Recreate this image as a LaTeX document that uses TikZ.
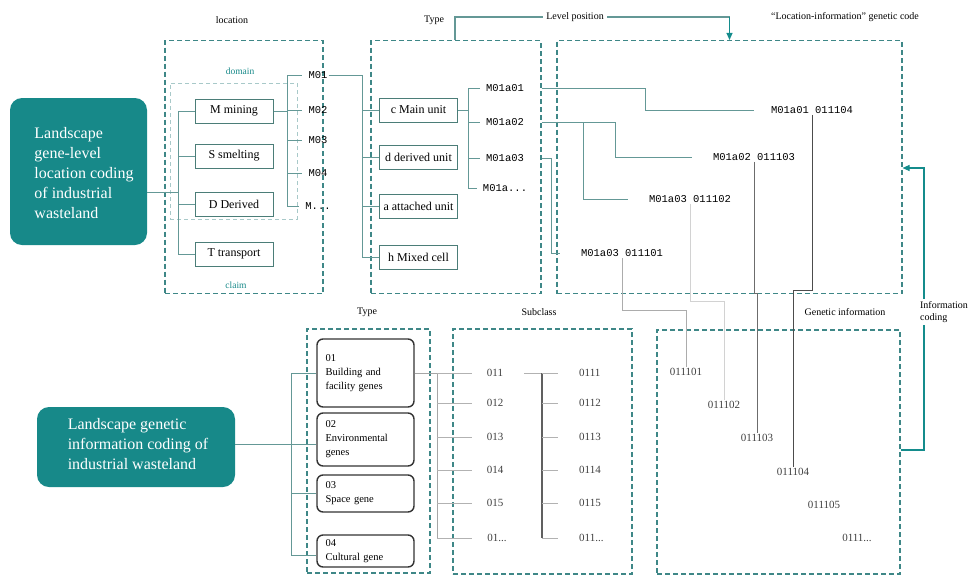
\documentclass[tikz,border=0pt]{standalone}
\usepackage{fontspec}
\setmainfont{Liberation Serif}
\newfontfamily\monof{Liberation Mono}
\usetikzlibrary{arrows.meta}
\definecolor{tealfill}{RGB}{23,137,137}
\definecolor{dashc}{RGB}{62,135,135}
\definecolor{connc}{RGB}{100,152,150}
\definecolor{unitc}{RGB}{75,125,120}
\definecolor{arrc}{RGB}{20,140,140}
\begin{document}
\begin{tikzpicture}[x=1pt,y=-1pt,
  tealbox/.style={fill=tealfill, rounded corners=12pt, inner sep=0pt},
  tealtext/.style={text=white, align=left, font=\fontsize{16}{20}\selectfont, inner sep=0pt},
  dbox/.style={draw=dashc, dash pattern=on 5pt off 3pt, line width=1.1pt, inner sep=0pt},
  dboxlight/.style={draw=dashc!45, dash pattern=on 4pt off 3pt, line width=0.8pt, inner sep=0pt},
  unit/.style={draw=unitc, line width=1pt, minimum width=78pt, minimum height=24pt, inner sep=1pt, font=\fontsize{12}{13}\selectfont},
  gene/.style={draw=black!80, line width=1.4pt, rounded corners=6pt, text width=80pt, inner xsep=8.5pt, inner ysep=2pt, align=left, font=\fontsize{10.5}{14}\selectfont},
  hdr/.style={font=\fontsize{10}{12}\selectfont, inner sep=1pt},
  hdrteal/.style={font=\fontsize{9.5}{11}\selectfont, text=tealfill, inner sep=1pt},
  mcode/.style={font=\monof\fontsize{10.5}{12}\selectfont, inner sep=1pt},
  scode/.style={font=\fontsize{11}{13}\selectfont, inner sep=1pt, text=black!75},
  conn/.style={draw=connc, line width=0.9pt},
  tealarrow/.style={draw=arrc, line width=1.1pt, -{Triangle[length=7pt,width=6pt]}},
  gconn/.style={draw=connc, line width=0.9pt}
]
\useasboundingbox (0,0) rectangle (974,576);

%% ---------- top left teal box ----------
\node[tealbox, minimum width=137pt, minimum height=147pt] (teal1) at (78.5,171.5) {};
\node[tealtext] (teal1t) at (84,173) {Landscape\\gene-level\\location coding\\of industrial\\wasteland};

%% ---------- location box ----------
\node[hdr] (hloc) at (232,20) {location};
\node[dbox, minimum width=158pt, minimum height=253pt] (locbox) at (244,167) {};
\node[dboxlight, minimum width=127pt, minimum height=136pt] (dombox) at (233.5,151) {};
\node[hdrteal] (hdom) at (240,71) {domain};
\node[hdrteal] (hclaim) at (236,285) {claim};

\node[unit] (mm) at (234,111) {M mining};
\node[unit] (ss) at (234,156) {S smelting};
\node[unit] (dd) at (234,204) {D Derived};
\node[unit] (tt) at (234,254) {T transport};

\coordinate (lbj) at (178,192);
\draw[conn] (teal1.east |- lbj) -- (lbj);
\draw[conn] (mm.west -| lbj) -- (tt.west -| lbj);
\foreach \n in {mm,ss,dd,tt} \draw[conn] (\n.west -| lbj) -- (\n.west);

\node[mcode] (m1) at (318,75) {M01};
\node[mcode] (m2) at (318,110) {M02};
\node[mcode] (m3) at (318,140) {M03};
\node[mcode] (m4) at (318,173) {M04};
\node[mcode] (m5) at (318,206) {M...};
\coordinate (mbx) at (287,111);
\draw[conn] (mm.east) -- (mm.east -| mbx);
\draw[conn] (m1.west -| mbx) -- (m5.west -| mbx);
\foreach \n in {m1,m2,m3,m4,m5} \draw[conn, shorten >=5pt] (\n.west -| mbx) -- (\n.west);

%% ---------- type box (top) ----------
\node[hdr] (htype) at (434,20) {Type};
\node[dbox, minimum width=170pt, minimum height=253pt] (typebox) at (456,167) {};
\node[unit] (cm) at (418.5,110) {c Main unit};
\node[unit] (dm) at (418.5,157) {d derived unit};
\node[unit] (am) at (418.5,206) {a attached unit};
\node[unit] (hm) at (418.5,257) {h Mixed cell};

\coordinate (tbx) at (362,75);
\draw[conn] (m1.east) -- (m1.east -| tbx) -- (hm.west -| tbx);
\foreach \n in {cm,dm,am,hm} \draw[conn] (\n.west -| tbx) -- (\n.west);

\node[mcode] (a1) at (505,88) {M01a01};
\node[mcode] (a2) at (505,122) {M01a02};
\node[mcode] (a3) at (505,158) {M01a03};
\node[mcode] (a4) at (505,188) {M01a...};
\coordinate (abx) at (468,110);
\draw[conn] (cm.east) -- (cm.east -| abx);
\draw[conn] (a1.west -| abx) -- (a4.west -| abx);
\foreach \n in {a1,a2,a3,a4} \draw[conn, shorten >=5pt] (\n.west -| abx) -- (\n.west);

%% ---------- level position ----------
\node[dbox, minimum width=345pt, minimum height=253pt] (codebox) at (729.5,167) {};
\coordinate (lp1) at (455,17);
\coordinate (lp2) at (729.5,17);
\draw[conn, line width=1.1pt] (typebox.north -| lp1) -- (lp1) -- (lp2);
\draw[tealarrow] (lp2) -- (codebox.north);
\node[hdr, fill=white, inner sep=3pt] (hlev) at (575,17) {Level position};
\node[hdr] (hcode) at (845,17) {``Location-information'' genetic code};

%% ---------- codes ----------
\node[mcode] (c1) at (812,110) {M01a01 011104};
\node[mcode] (c2) at (754,157) {M01a02 011103};
\node[mcode] (c3) at (690,199) {M01a03 011102};
\node[mcode] (c4) at (622,253) {M01a03 011101};

\coordinate (bx1) at (645,0);
\coordinate (bx2) at (615,0);
\coordinate (bx3) at (583,0);
\coordinate (bx4) at (551,0);
\draw[conn] (typebox.east |- a1) -- (a1 -| bx1) |- ([xshift=-16pt]c1.west);
\draw[conn] (typebox.east |- a2) -- (a2 -| bx2) |- ([xshift=-20pt]c2.west);
\draw[conn] (a2 -| bx3) |- ([xshift=-20pt]c3.west);
\draw[conn] (typebox.east |- a3) -- (a3 -| bx4) |- ([xshift=-20pt]c4.west);

%% ---------- genetic information box ----------
\node[hdr] (hgen) at (845,312) {Genetic information};
\node[dbox, minimum width=243pt, minimum height=244pt] (gbox) at (778.5,452) {};
\node[scode] (gA) at (686,372) {011101};
\node[scode] (gB) at (724,405) {011102};
\node[scode] (gC) at (757,438) {011103};
\node[scode] (gD) at (793,472) {011104};
\node[scode] (gE) at (824,505) {011105};
\node[scode] (gF) at (857,538) {0111...};

\draw[draw=gray!65, line width=1pt] (c4.south) -- (c4.south |- 0,310) -| (gA.north);
\draw[draw=gray!35, line width=1pt] (c3.south) -- (c3.south |- 0,301) -| (gB.north);
\draw[draw=gray!85!black, line width=1pt] (c2.south) -- (c2.south |- 0,293) -| (gC.north);
\draw[draw=black!70, line width=1pt] (c1.south) -- (c1.south |- 0,290) -| (gD.north);

%% ---------- information coding ----------
\coordinate (icx) at (924,450);
\coordinate (icy) at (0,168);
\draw[tealarrow] (gbox.east |- icx) -- (icx) |- (codebox.east |- icy);
\node[hdr, fill=white, align=left, inner sep=2pt] (hinf) at (944,312) {Information\\coding};

%% ---------- bottom left teal box ----------
\node[tealbox, minimum width=198pt, minimum height=80pt] (teal2) at (136,447) {};
\node[tealtext] (teal2t) at (138,444) {Landscape genetic\\information coding of\\industrial wasteland};

%% ---------- bottom type box ----------
\node[hdr] (htype2) at (367,312) {Type};
\node[dbox, minimum width=123pt, minimum height=244pt] (gtbox) at (368.5,451) {};
\node[gene, minimum height=68pt] (g1) at (365.5,373) {01\\Building and\\facility genes};
\node[gene, minimum height=53pt] (g2) at (365.5,439.5) {02\\Environmental\\genes};
\node[gene, minimum height=37pt] (g3) at (365.5,493.5) {03\\Space gene};
\node[gene, minimum height=32pt] (g4) at (365.5,551) {04\\Cultural gene};

\coordinate (gbx) at (291,444);
\draw[gconn] (teal2.east |- gbx) -- (g2.west |- gbx);
\draw[gconn] (g1.west -| gbx) -- ([yshift=-4pt]g4.west -| gbx);
\draw[gconn] (g1.west -| gbx) -- (g1.west);
\draw[gconn] (g3.west -| gbx) -- (g3.west);
\draw[gconn] ([yshift=-4pt]g4.west -| gbx) -- ([yshift=-4pt]g4.west);

%% ---------- subclass box ----------
\node[hdr] (hsub) at (539,312) {Subclass};
\node[dbox, minimum width=179pt, minimum height=245pt] (subbox) at (542.5,451.5) {};
\node[scode] (s1) at (495,373) {011};
\node[scode] (s2) at (495,403) {012};
\node[scode] (s3) at (495,437) {013};
\node[scode] (s4) at (495,470) {014};
\node[scode] (s5) at (495,503) {015};
\node[scode] (s6) at (497,538) {01...};
\node[scode, anchor=west] (t1) at (578,373) {0111};
\node[scode, anchor=west] (t2) at (578,403) {0112};
\node[scode, anchor=west] (t3) at (578,437) {0113};
\node[scode, anchor=west] (t4) at (578,470) {0114};
\node[scode, anchor=west] (t5) at (578,503) {0115};
\node[scode, anchor=west] (t6) at (578,538) {011...};

\coordinate (sbx) at (437,373);
\draw[draw=gray!70, line width=1pt] (g1.east) -- (g1.east -| sbx);
\draw[draw=gray!70, line width=1pt] (s1.west -| sbx) -- (s6.west -| sbx);
\foreach \n in {s1,s2,s3,s4,s5,s6} \draw[draw=gray!60, line width=0.9pt, shorten >=14pt] (\n.west -| sbx) -- (\n.west);

\coordinate (rbx) at (542,373);
\draw[draw=gray!60, line width=0.9pt, shorten <=20pt] (s1.east) -- (s1.east -| rbx);
\draw[draw=gray!75!black, line width=1.6pt] (t1.west -| rbx) -- (t6.west -| rbx);
\foreach \n in {t1,t2,t3,t4,t5,t6} \draw[draw=gray!60, line width=0.9pt, shorten >=20pt] (\n.west -| rbx) -- (\n.west);
\end{tikzpicture}
\end{document}
